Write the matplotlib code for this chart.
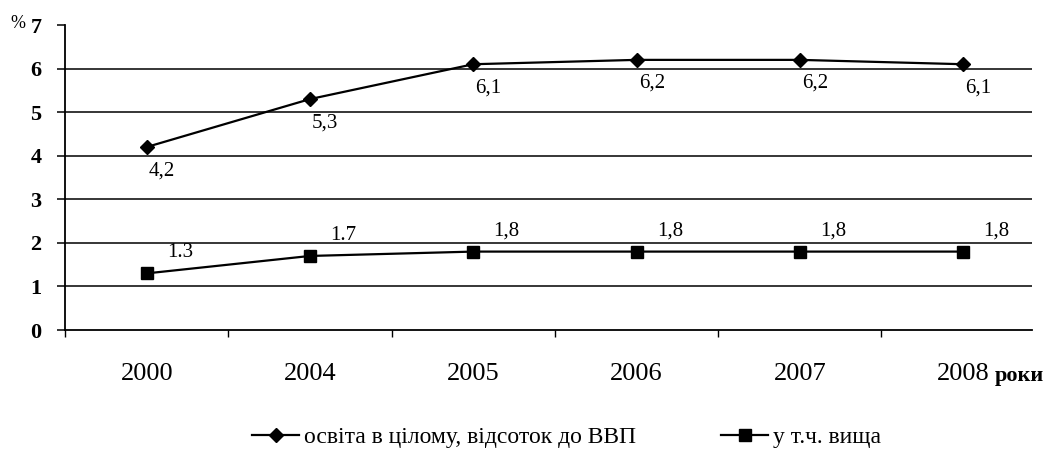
import matplotlib
matplotlib.use("Agg")
import matplotlib.pyplot as plt
from matplotlib.ticker import FixedLocator

years = ["2000", "2004", "2005", "2006", "2007", "2008"]
total = [4.2, 5.3, 6.1, 6.2, 6.2, 6.1]
higher = [1.3, 1.7, 1.8, 1.8, 1.8, 1.8]
total_labels = ["4,2", "5,3", "6,1", "6,2", "6,2", "6,1"]
higher_labels = ["1.3", "1.7", "1,8", "1,8", "1,8", "1,8"]
name_total = "освіта в цілому, відсоток до ВВП"
name_higher = "у т.ч. вища"

plt.rcParams['font.family'] = ['Liberation Serif', 'DejaVu Serif']

fig = plt.figure(figsize=(10.56, 4.59), dpi=100)
ax = fig.add_axes([0.0616, 0.281, 0.9154, 0.6645])

x = list(range(len(years)))
ax.set_xlim(-0.5, 5.42)
ax.set_ylim(0, 7)

for g in range(1, 7):
    ax.axhline(g, color='black', lw=1.1, zorder=1)

l1, = ax.plot(x, total, color='black', lw=1.6, marker='D', markersize=7, zorder=3)
l2, = ax.plot(x, higher, color='black', lw=1.6, marker='s', markersize=8, zorder=3)

for xi, v, t in zip(x, total, total_labels):
    ax.annotate(t, (xi, v), xytext=(11, -17), textcoords='offset points',
                ha='center', va='center', fontsize=15)
for xi, v, t in zip(x, higher, higher_labels):
    ax.annotate(t, (xi, v), xytext=(24, 15), textcoords='offset points',
                ha='center', va='center', fontsize=15)

ax.spines['top'].set_visible(False)
ax.spines['right'].set_visible(False)
ax.spines['left'].set_linewidth(1.3)
ax.spines['bottom'].set_linewidth(1.3)

ax.set_yticks(range(0, 8))
ax.set_yticklabels([str(i) for i in range(0, 8)], fontsize=16, fontweight='bold')
ax.tick_params(axis='y', length=6, width=1.1, pad=11)

ax.set_xticks(x)
ax.set_xticklabels(years, fontsize=19)
ax.tick_params(axis='x', length=0, pad=24)
ax.xaxis.set_minor_locator(FixedLocator([-0.5 + i for i in range(6)]))
ax.tick_params(axis='x', which='minor', length=5, width=1)

fig.text(10 / 1056, 1 - 24 / 459, "%", fontsize=13, ha='left', va='center')
fig.text(995 / 1056, 1 - 376 / 459, "роки", fontsize=16, fontweight='bold', ha='left', va='center')

leg = fig.legend([l1, l2], [name_total, name_higher], loc='center left', ncol=2,
                 bbox_to_anchor=(252 / 1056, 1 - 437 / 459), frameon=False,
                 fontsize=17, columnspacing=3.6, handlelength=2.0, handletextpad=0.2,
                 borderpad=0, borderaxespad=0)

fig.savefig("out.png", dpi=100)
